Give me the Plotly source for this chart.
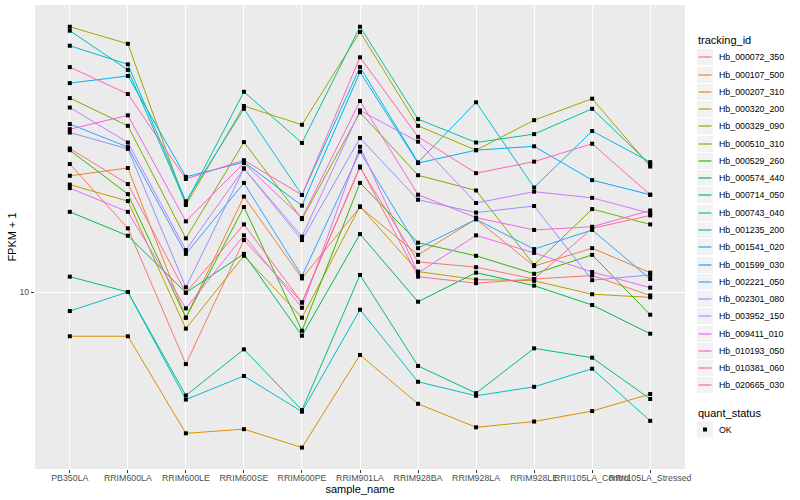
import plotly.graph_objects as go

samples = ["PB350LA", "RRIM600LA", "RRIM600LE", "RRIM600SE", "RRIM600PE", "RRIM901LA",
           "RRIM928BA", "RRIM928LA", "RRIM928LE", "RRII105LA_Control", "RRII105LA_Stressed"]

tracking_ids = ["Hb_000072_350", "Hb_000107_500", "Hb_000207_310", "Hb_000320_200", "Hb_000329_090",
                "Hb_000510_310", "Hb_000529_260", "Hb_000574_440", "Hb_000714_050", "Hb_000743_040",
                "Hb_001235_200", "Hb_001541_020", "Hb_001599_030", "Hb_002221_050", "Hb_002301_080",
                "Hb_003952_150", "Hb_009411_010", "Hb_010193_050", "Hb_010381_060", "Hb_020665_030"]

hb_000072_350 = [26.7, 16.3, 5.75, 14.9, 9.23, 26.0, 12.6, 12.1, 11.05, 11.35, 9.74]
hb_000107_500 = [24.4, 25.9, 8.21, 20.8, 11.1, 19.2, 13.3, 17.5, 12.2, 14.0, 11.6]
hb_000207_310 = [7.12, 7.12, 3.38, 3.49, 3.03, 6.17, 4.24, 3.54, 3.70, 4.01, 4.57]
hb_000320_200 = [22.8, 20.1, 7.55, 13.2, 8.21, 19.3, 11.7, 11.0, 10.9, 9.83, 9.60]
hb_000329_090 = [76.6, 67.2, 19.5, 41.7, 36.1, 73.6, 35.8, 29.7, 37.4, 44.1, 26.2]
hb_000510_310 = [44.3, 35.8, 15.1, 31.6, 17.5, 39.7, 24.5, 21.8, 12.3, 18.9, 16.8]
hb_000529_260 = [29.7, 21.2, 8.21, 19.2, 7.43, 23.1, 14.6, 13.2, 11.5, 13.3, 8.40]
hb_000574_440 = [18.5, 15.4, 9.95, 13.4, 7.15, 15.6, 9.28, 11.6, 10.5, 9.05, 7.26]
hb_000714_050 = [11.25, 10.0, 4.52, 6.44, 4.04, 11.4, 5.67, 4.60, 6.49, 6.04, 4.40]
hb_000743_040 = [74.3, 55.0, 19.75, 46.5, 31.4, 76.6, 37.7, 31.5, 33.6, 40.8, 26.6]
hb_001235_200 = [8.64, 10.0, 4.38, 5.25, 3.99, 8.73, 5.02, 4.51, 4.83, 5.55, 3.72]
hb_001541_020 = [66.2, 57.4, 20.06, 40.8, 21.06, 56.2, 27.06, 42.9, 22.3, 34.4, 27.1]
hb_001599_030 = [49.7, 52.5, 24.2, 27.1, 19.4, 54.1, 26.9, 29.7, 30.6, 23.6, 21.1]
hb_002221_050 = [36.3, 30.4, 13.4, 23.1, 11.3, 29.4, 14.0, 17.47, 13.9, 16.1, 11.05]
hb_002301_080 = [34.0, 30.0, 10.37, 25.8, 14.9, 32.6, 20.3, 18.4, 19.35, 10.95, 11.4]
hb_003952_150 = [41.2, 31.5, 13.8, 25.8, 15.3, 40.3, 31.7, 19.8, 21.6, 20.6, 18.3]
hb_009411_010 = [22.2, 18.5, 8.82, 15.45, 8.86, 30.5, 11.57, 15.45, 13.5, 11.66, 10.34]
hb_010193_050 = [34.9, 38.8, 17.2, 26.9, 17.65, 43.3, 21.1, 17.7, 16.1, 16.5, 18.7]
hb_010381_060 = [56.2, 45.7, 23.8, 27.5, 21.06, 60.6, 32.9, 24.9, 27.2, 31.2, 21.1]
hb_020665_030 = [30.1, 22.9, 9.95, 16.8, 9.23, 26.2, 11.25, 10.7, 11.05, 16.3, 18.0]

series_values = [hb_000072_350, hb_000107_500, hb_000207_310, hb_000320_200, hb_000329_090,
                 hb_000510_310, hb_000529_260, hb_000574_440, hb_000714_050, hb_000743_040,
                 hb_001235_200, hb_001541_020, hb_001599_030, hb_002221_050, hb_002301_080,
                 hb_003952_150, hb_009411_010, hb_010193_050, hb_010381_060, hb_020665_030]

colors = ["#F8766D", "#EA8331", "#D89000", "#C09B00", "#A3A500", "#7CAE00", "#39B600", "#00BB4E",
          "#00BF7D", "#00C1A3", "#00BFC4", "#00BAE0", "#00B0F6", "#35A2FF", "#9590FF", "#C77CFF",
          "#E76BF3", "#FA62DB", "#FF62BC", "#FF6C91"]

quant_levels = ["OK"]
y_ticks = [10]
y_tick_labels = ["10"]

FONT = "Liberation Sans, Arial, sans-serif"
W, H = 800, 500
ML, MR, MT, MB = 35, 115, 5, 31
PW, PH = W - ML - MR, H - MT - MB


def px_x(px):
    return (px - ML) / PW


def px_y(py):
    return (H - MB - py) / PH


fig = go.Figure()
for name, vals, col in zip(tracking_ids, series_values, colors):
    fig.add_trace(go.Scatter(x=samples, y=vals, mode="lines", name=name, showlegend=False,
                             line=dict(color=col, width=1)))

all_x = [s for vals in series_values for s in samples]
all_y = [v for vals in series_values for v in vals]
fig.add_trace(go.Scatter(x=all_x, y=all_y, mode="markers", name=quant_levels[0], showlegend=False,
                         marker=dict(symbol="square", size=4, color="black")))

# manual ggplot-style legends
shapes = []
annotations = []
annotations.append(dict(xref="paper", yref="paper", x=px_x(696), y=px_y(40.5), xanchor="left",
                        yanchor="middle", text="tracking_id", showarrow=False,
                        font=dict(size=11, color="black", family=FONT)))
step = 17.27
for i, (name, col) in enumerate(zip(tracking_ids, colors)):
    cy = 57.3 + step * i
    ly = round(cy)
    shapes.append(dict(type="rect", xref="paper", yref="paper", x0=px_x(697), x1=px_x(713),
                       y0=px_y(ly - 8), y1=px_y(ly + 8), fillcolor="#F2F2F2", line=dict(width=0),
                       layer="above"))
    shapes.append(dict(type="rect", xref="paper", yref="paper", x0=px_x(698.5), x1=px_x(711.5),
                       y0=px_y(ly + 0.6), y1=px_y(ly - 0.6), fillcolor=col, line=dict(width=0),
                       layer="above"))
    annotations.append(dict(xref="paper", yref="paper", x=px_x(716.5), y=px_y(cy), xanchor="left",
                            yanchor="middle", text=name, showarrow=False,
                            font=dict(size=8.8, color="black", family=FONT)))

annotations.append(dict(xref="paper", yref="paper", x=px_x(696), y=px_y(412.5), xanchor="left",
                        yanchor="middle", text="quant_status", showarrow=False,
                        font=dict(size=11, color="black", family=FONT)))
ok_y = 429.5
shapes.append(dict(type="rect", xref="paper", yref="paper", x0=px_x(697), x1=px_x(713),
                   y0=px_y(ok_y - 8), y1=px_y(ok_y + 8), fillcolor="#F2F2F2", line=dict(width=0),
                   layer="above"))
shapes.append(dict(type="rect", xref="paper", yref="paper", x0=px_x(703), x1=px_x(707),
                   y0=px_y(ok_y - 2), y1=px_y(ok_y + 2), fillcolor="black", line=dict(width=0),
                   layer="above"))
annotations.append(dict(xref="paper", yref="paper", x=px_x(716.5), y=px_y(ok_y), xanchor="left",
                        yanchor="middle", text=quant_levels[0], showarrow=False,
                        font=dict(size=8.8, color="black", family=FONT)))

fig.update_layout(
    width=W, height=H,
    margin=dict(l=ML, r=MR, t=MT, b=MB),
    paper_bgcolor="white", plot_bgcolor="#EBEBEB",
    font=dict(family=FONT, size=9, color="#4D4D4D"),
    showlegend=False,
    shapes=shapes, annotations=annotations,
    xaxis=dict(type="category", categoryorder="array", categoryarray=samples,
               range=[-0.6, 10.6], showgrid=True, gridcolor="white", gridwidth=1.1,
               zeroline=False, ticks="outside", ticklen=3, tickcolor="#333333",
               tickangle=0, ticklabelstandoff=-3, tickfont=dict(size=8.8, color="#4D4D4D"),
               title=dict(text="sample_name", font=dict(size=11, color="black"), standoff=0)),
    yaxis=dict(type="log", range=[0.41, 1.9567], tickvals=y_ticks, ticktext=y_tick_labels,
               showgrid=True, gridcolor="white", gridwidth=1.1, zeroline=False,
               ticks="outside", ticklen=3, tickcolor="#333333",
               tickfont=dict(size=8.8, color="#4D4D4D"),
               title=dict(text="FPKM + 1", font=dict(size=11, color="black"), standoff=0)),
)

fig.write_html("out.html", config={"displayModeBar": False},
               post_script="document.body.style.margin='0px';document.body.style.overflow='hidden';")
